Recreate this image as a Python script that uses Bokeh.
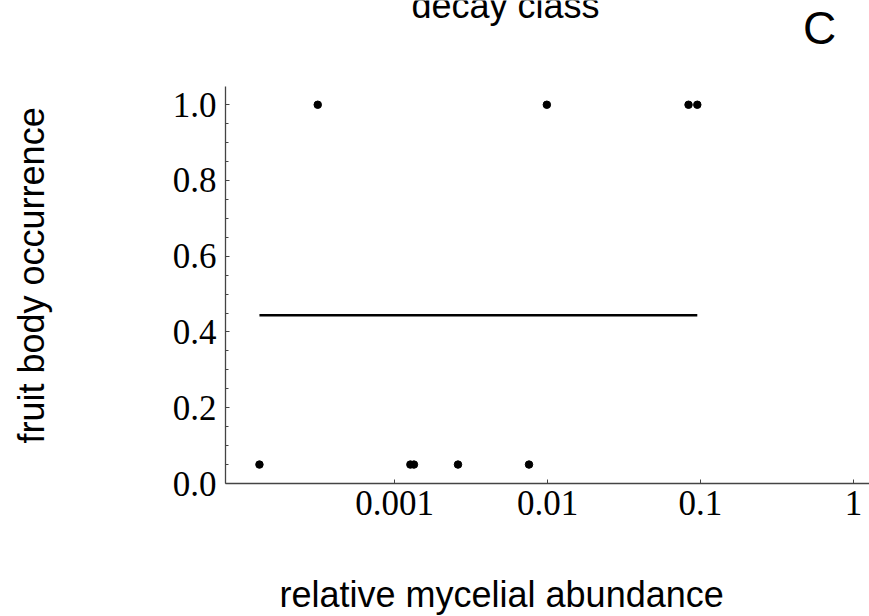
import math
from bokeh.plotting import figure
from bokeh.models import Range1d, Label, FixedTicker, Title
from bokeh.embed import file_html
from bokeh.resources import INLINE

# ---- data ----
abundance = [1.31e-4, 3.15e-4, 1.27e-3, 1.34e-3, 2.6e-3, 7.57e-3, 9.9e-3, 8.35e-2, 9.53e-2]
occurrence = [0.05, 1.0, 0.05, 0.05, 0.05, 0.05, 1.0, 1.0, 1.0]
fit_level = 0.444

x_ticks = [0.001, 0.01, 0.1, 1.0]
x_tick_labels = ["0.001", "0.01", "0.1", "1"]
y_ticks = [0.0, 0.2, 0.4, 0.6, 0.8, 1.0]
y_tick_labels = ["0.0", "0.2", "0.4", "0.6", "0.8", "1.0"]
y_minor_ticks = [0.05, 0.1, 0.15, 0.25, 0.3, 0.35, 0.45, 0.5, 0.55,
                 0.65, 0.7, 0.75, 0.85, 0.9, 0.95]
y_axis_top = 1.0483

title_text = "decay class"
panel_text = "C"
x_label = "relative mycelial abundance"
y_label = "fruit body occurrence"

p = figure(width=869, height=616, x_axis_type="log",
           x_range=Range1d(10 ** -4.1046, 10 ** 0.1046),
           y_range=Range1d(0, 1.2752),
           output_backend="svg", toolbar_location=None,
           min_border_left=225, min_border_right=0,
           min_border_top=0, min_border_bottom=133)
p.outline_line_color = None
p.xgrid.visible = False
p.ygrid.visible = False
p.background_fill_color = "white"
p.border_fill_color = "white"

p.line([min(abundance), max(abundance)], [fit_level, fit_level],
       line_color="black", line_width=2.5)
p.scatter(abundance, occurrence, size=7.5, fill_color="black", line_color="black")

p.xaxis.ticker = FixedTicker(ticks=x_ticks, minor_ticks=[])
p.xaxis.major_label_overrides = dict(zip(x_ticks, x_tick_labels))
p.yaxis.ticker = FixedTicker(ticks=y_ticks, minor_ticks=y_minor_ticks)
p.yaxis.major_label_overrides = dict(zip(y_ticks, y_tick_labels))
p.yaxis.bounds = (0, y_axis_top)

for ax in (p.xaxis[0], p.yaxis[0]):
    ax.axis_line_color = "#444444"
    ax.axis_line_width = 1.3
    ax.major_tick_line_color = "#444444"
    ax.minor_tick_line_color = "#444444"
    ax.major_tick_in = 4
    ax.major_tick_out = 0
    ax.minor_tick_in = 3
    ax.minor_tick_out = 0
    ax.major_label_text_font = "Liberation Serif"
    ax.major_label_text_font_size = "35px"
    ax.major_label_text_color = "black"
    # blank spacer label: reserves room so the side titles sit where the reference has them
    ax.axis_label = " "
    ax.axis_label_text_font_size = "1px"
p.xaxis.major_label_standoff = 7
p.yaxis.major_label_standoff = 9
p.xaxis.axis_label_standoff = 50
p.yaxis.axis_label_standoff = 114

common = dict(x_units="screen", y_units="screen", text_font="Liberation Sans",
              text_color="black", text_align="center", text_baseline="alphabetic")
p.add_layout(Label(x=280, y=478.5, text=title_text, text_font_size="36px", **common))
p.add_layout(Label(x=594, y=455.5, text=panel_text, text_font_size="46px", **common))

p.add_layout(Title(text=x_label, align="left", offset=54, standoff=0,
                   text_font="Liberation Sans", text_font_size="36px",
                   text_font_style="normal", text_color="black"), "below")
p.add_layout(Title(text=y_label, align="left", offset=40, standoff=0,
                   text_font="Liberation Sans", text_font_size="36px",
                   text_font_style="normal", text_color="black"), "left")

open("out.html", "w").write(file_html(p, INLINE))
